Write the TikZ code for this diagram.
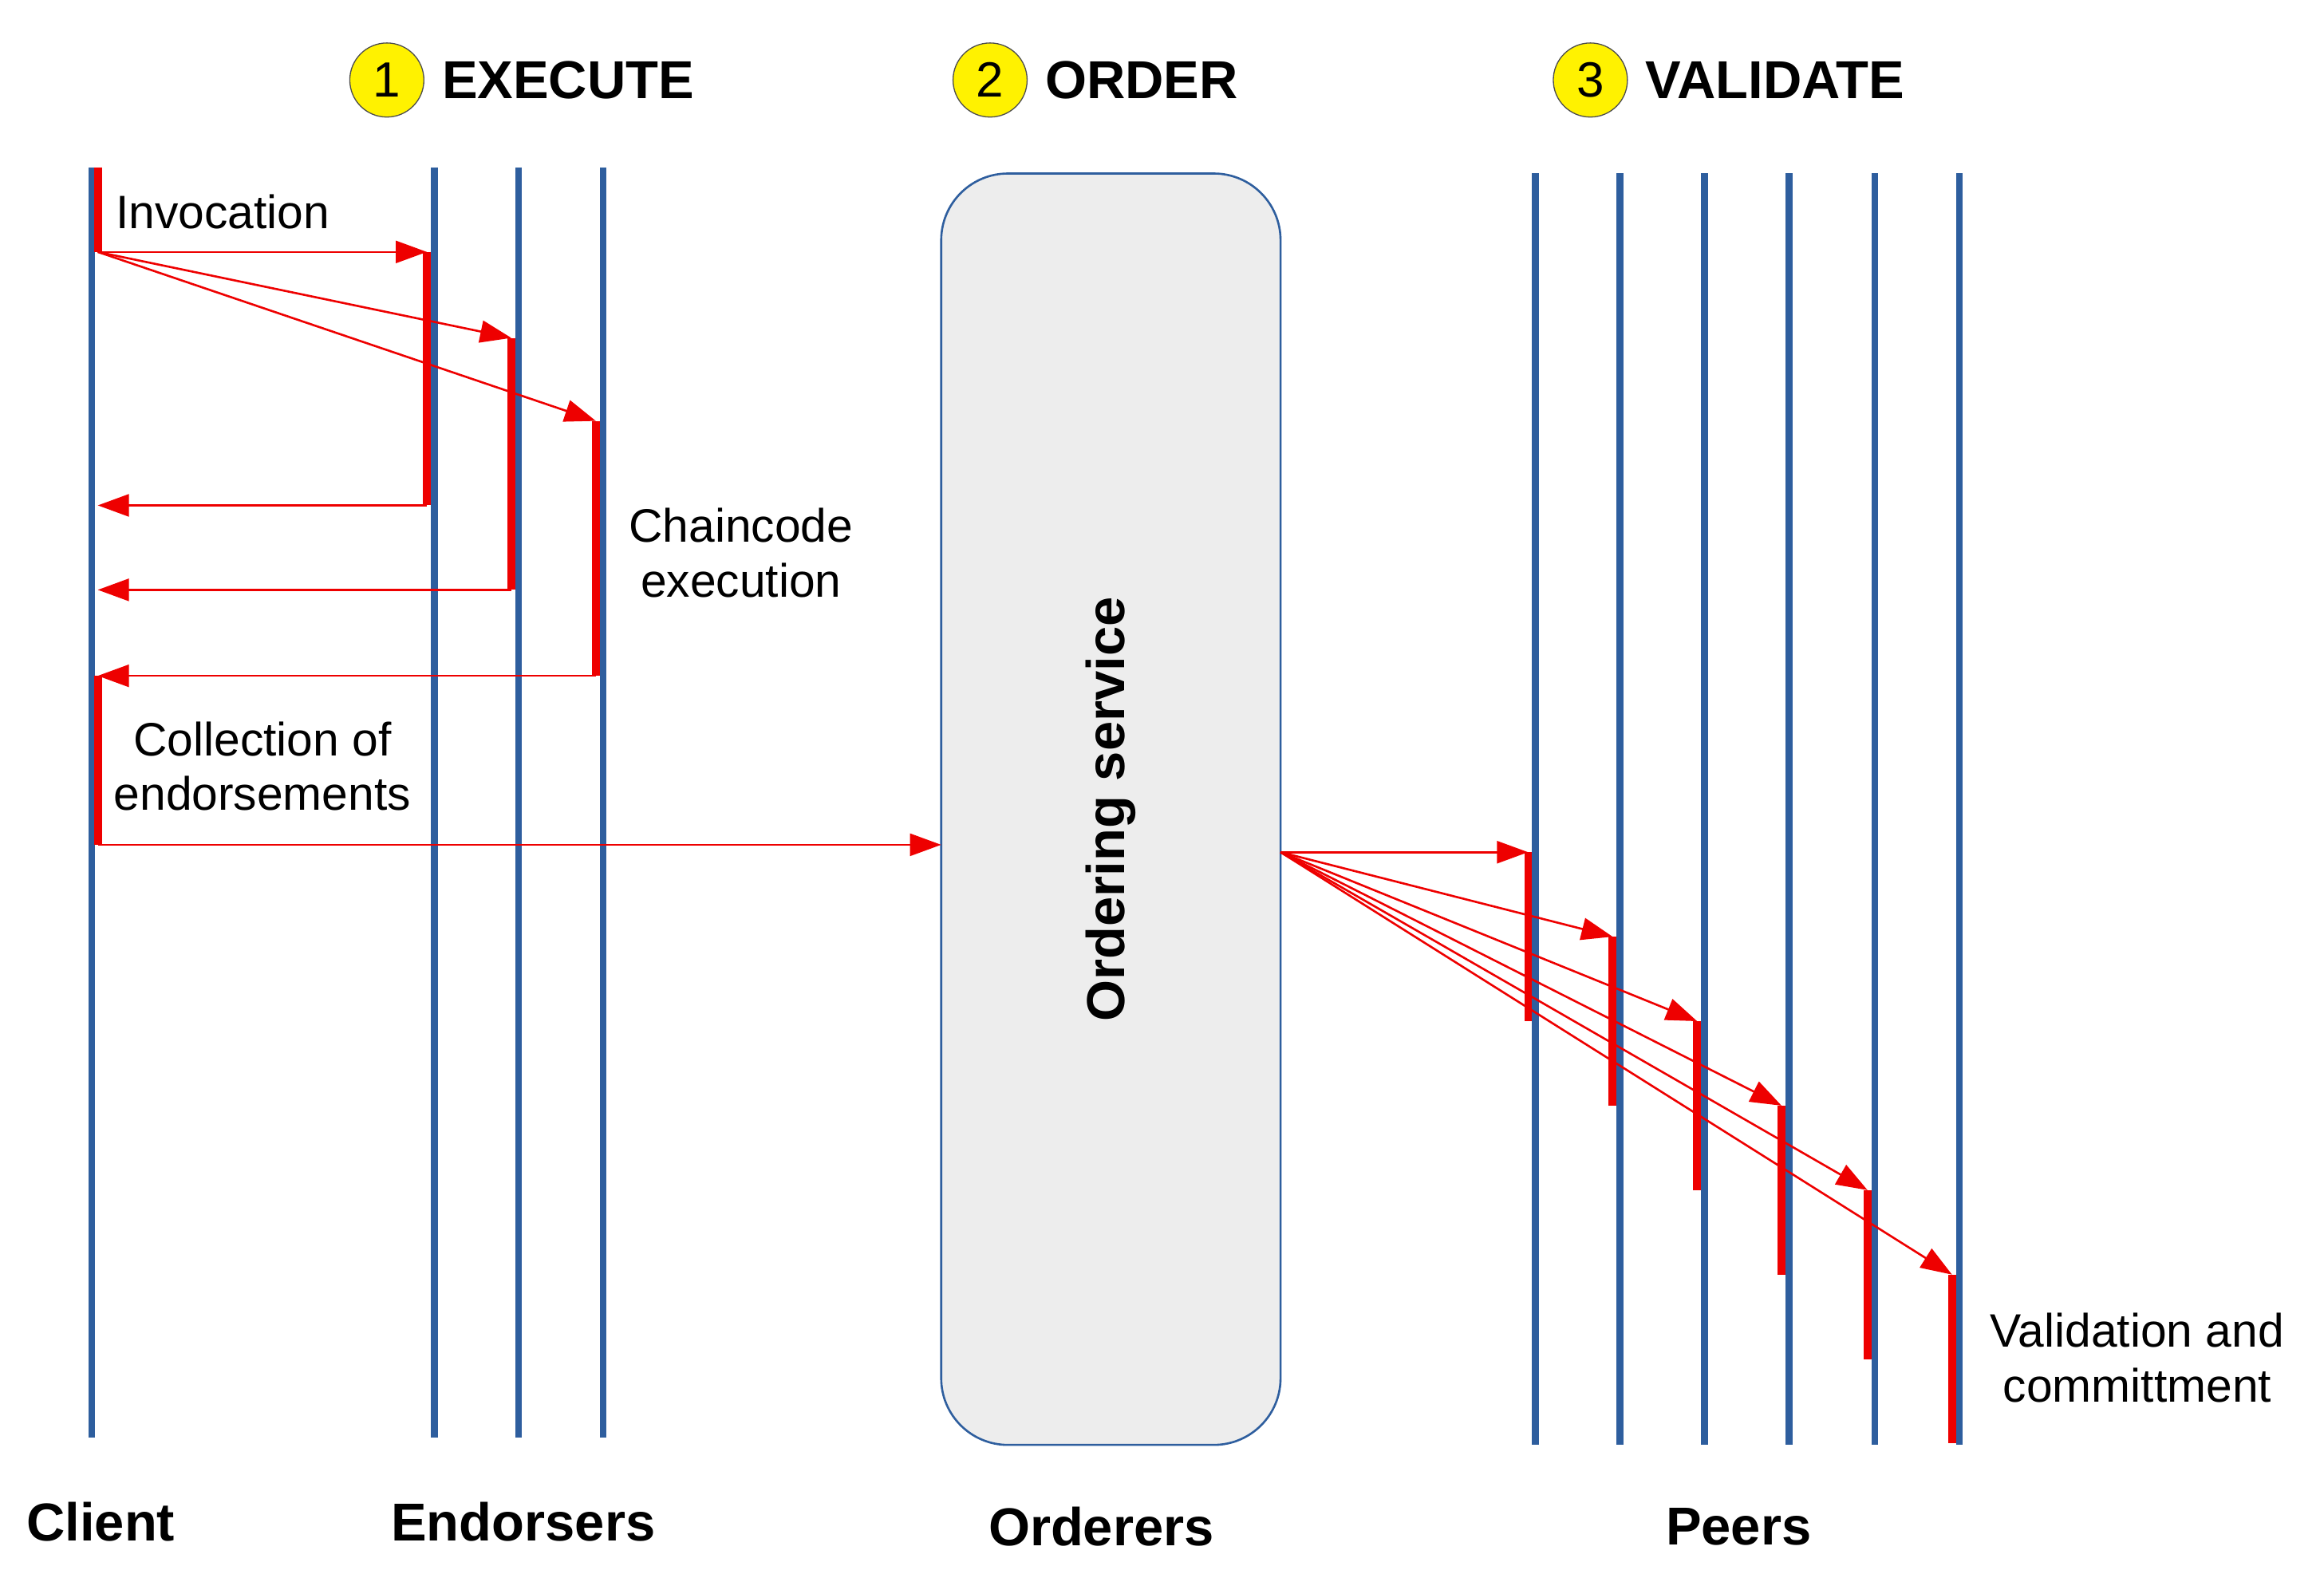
\documentclass[tikz,border=0pt]{standalone}
\usepackage{fontspec}
\setmainfont{Liberation Sans}
\usetikzlibrary{arrows.meta}
\definecolor{lb}{HTML}{2E5E9E}
\definecolor{rr}{HTML}{EE0000}
\begin{document}
\begin{tikzpicture}[x=0.02cm,y=-0.02cm,
  life/.style={lb,line width=2.6pt},
  act/.style={rr,line width=3pt},
  msg/.style={rr,line width=0.8pt,-{Triangle[length=0.42cm,width=0.3cm]}},
  num/.style={circle,draw=black!70,fill=yellow,minimum size=1cm,inner sep=0pt,font=\fontsize{19}{22}\selectfont},
  ttl/.style={anchor=west,font=\fontsize{20.5}{24}\selectfont\bfseries},
  bot/.style={font=\fontsize{20.5}{24}\selectfont\bfseries},
  lab/.style={font=\fontsize{18}{21}\selectfont,align=center}]
\useasboundingbox (0,0) rectangle (1568,1058.8);
% lifelines
\foreach \n/\x/\a/\b in {c/62/113/970, e1/293/113/970, e2/350/113/970, e3/407/113/970,
  p1/1036/117/975, p2/1093/117/975, p3/1150/117/975, p4/1207/117/975, p5/1265/117/975, p6/1322/117/975}
  \draw[life] (\x,\a) coordinate (\n top) -- (\x,\b) coordinate (\n bot);
% ordering box
\node[draw=lb,fill=black!7,rounded corners=0.9cm,line width=0.8pt,minimum width=4.58cm,minimum height=17.16cm] (ord) at (749.5,546) {};
\node[rotate=90,font=\fontsize{20.5}{24}\selectfont\bfseries] (ordl) at (749.5,546) {Ordering service};
% client activations
\coordinate (c0) at (66,113); \coordinate (c1) at (66,170);
\coordinate (c2) at (66,456); \coordinate (c3) at (66,570);
\draw[act] (c0) -- (c1); \draw[act] (c2) -- (c3);
% endorser activations
\foreach \i/\x/\a/\b in {1/288/170/341, 2/345/228/398, 3/402/284/456}{
  \coordinate (ea\i) at (\x,\a); \coordinate (eb\i) at (\x,\b);
  \draw[act] (ea\i) -- (eb\i);
  \coordinate (cr\i) at (66,\b);
  \draw[msg] (c1) -- (ea\i);
  \draw[msg] (eb\i) -- (cr\i);
}
\coordinate (oin) at (635,570);
\draw[msg] (c3) -- (oin);
% peers
\coordinate (oout) at (864,575);
\foreach \i/\x/\a in {1/1031/575, 2/1088/632, 3/1145/689, 4/1202/746, 5/1260/803, 6/1317/860}{
  \coordinate (pa\i) at (\x,\a); \coordinate (pb\i) at (\x,\a+114);
  \draw[act] (pa\i) -- (pb\i);
  \draw[msg] (oout) -- (pa\i);
}
% titles
\node[num] (n1) at (261,54) {1}; \node[ttl] (t1) at (292,54) {EXECUTE};
\node[num] (n2) at (668,54) {2}; \node[ttl] (t2) at (699,54) {ORDER};
\node[num] (n3) at (1073,54) {3}; \node[ttl] (t3) at (1104,54) {VALIDATE};
% labels
\node[lab,anchor=west] (inv) at (72,143) {Invocation};
\node[lab] (cc) at (500,373) {Chaincode\\execution};
\node[lab] (coll) at (177,517) {Collection of\\endorsements};
\node[lab] (val) at (1442,916) {Validation and\\committment};
\node[bot] (bc) at (68,1027) {Client};
\node[bot] (be) at (353,1027) {Endorsers};
\node[bot] (bo) at (743,1030) {Orderers};
\node[bot] (bp) at (1173,1030) {Peers};
\end{tikzpicture}
\end{document}
